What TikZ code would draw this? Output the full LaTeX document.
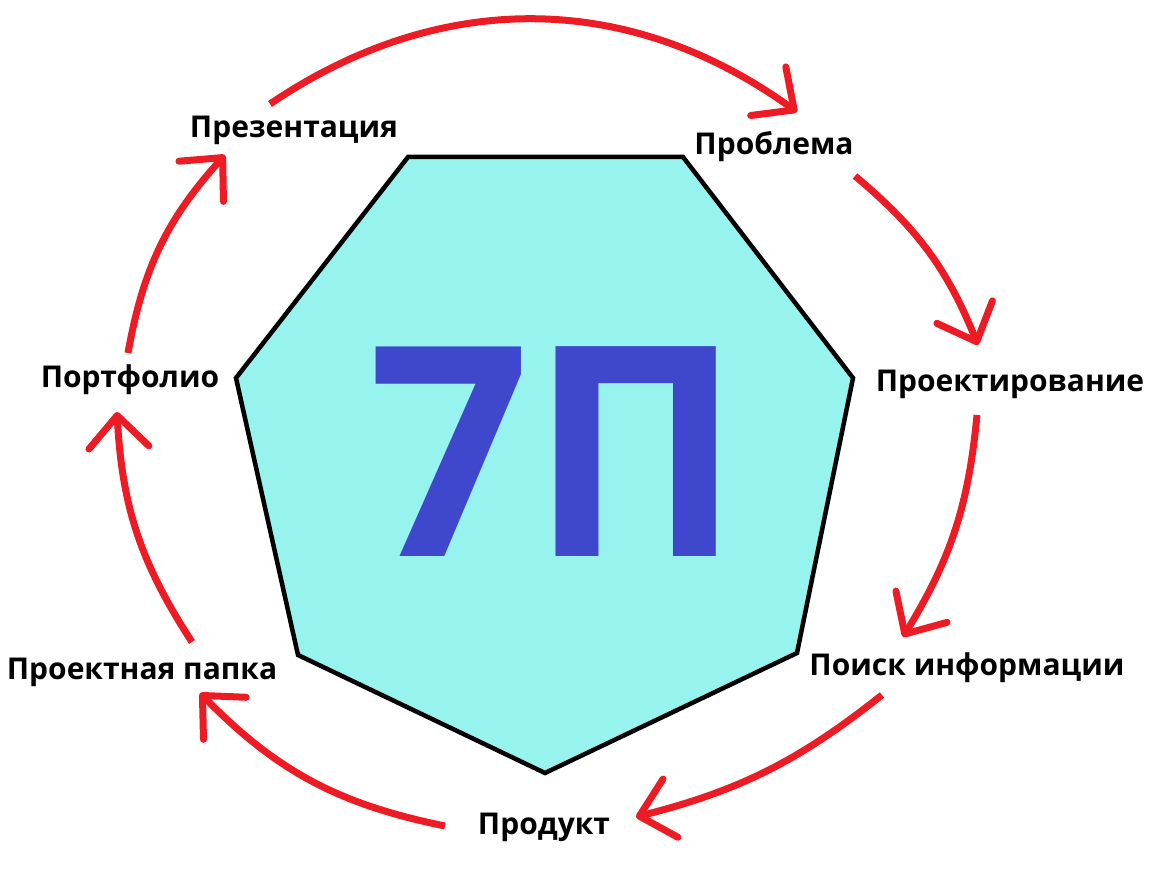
\documentclass[tikz,border=0pt]{standalone}
\usepackage{fontspec}
\setmainfont{Open Sans}
\usetikzlibrary{arrows.meta}
\definecolor{arrowred}{HTML}{ED1C24}
\definecolor{heptfill}{HTML}{97F3EE}
\definecolor{sevenblue}{HTML}{3F48CC}
\begin{document}
\begin{tikzpicture}[x=1pt,y=1pt,
    lbl/.style={anchor=base,inner sep=0pt,font=\fontsize{30}{36}\selectfont\bfseries},
    cyc/.style={draw=arrowred,line width=7pt,-{Straight Barb[length=32pt,width=60pt,round]}}]
\useasboundingbox (0,0) rectangle (1156,868);
% heptagon
\filldraw[fill=heptfill,draw=black,line width=4.5pt] (408,711) -- (683,711) -- (853,490) -- (797,215)
    -- (545,95) -- (298,213) -- (236,490) -- cycle;
\node[anchor=base,inner sep=0pt,xscale=0.965,text=sevenblue,font=\fontsize{294}{300}\selectfont\bfseries] (title) at (555,311) {7П};
% stages
\node[lbl] (pres) at (294,730) {Презентация};
\node[lbl] (probl) at (774,713) {Проблема};
\node[lbl] (proekt) at (1010,476) {Проектирование};
\node[lbl] (poisk) at (967,193) {Поиск информации};
\node[lbl] (prod) at (544,34) {Продукт};
\node[lbl] (papka) at (142,189) {Проектная папка};
\node[lbl] (portf) at (130,480) {Портфолио};
% arrow ends
\coordinate (t1) at (270,764); \coordinate (h1) at (797,756);
\coordinate (t2) at (855,692); \coordinate (h2) at (978,523);
\coordinate (t3) at (977,453); \coordinate (h3) at (903,231);
\coordinate (t4) at (882,173); \coordinate (h4) at (636,51);
\coordinate (t5) at (445,42);  \coordinate (h5) at (200,175);
\coordinate (t6) at (192,226); \coordinate (h6) at (117,456);
\coordinate (t7) at (128,515); \coordinate (h7) at (225,713);
\draw[cyc] (t1) to[bend left=35] (h1);
\draw[cyc] (t2) to[bend left=14] (h2);
\draw[cyc] (t3) to[bend left=13] (h3);
\draw[cyc] (t4) to[bend left=12] (h4);
\draw[cyc] (t5) to[bend left=17] (h5);
\draw[cyc] (t6) to[bend left=15] (h6);
\draw[cyc] (t7) to[bend left=16] (h7);
\end{tikzpicture}
\end{document}
